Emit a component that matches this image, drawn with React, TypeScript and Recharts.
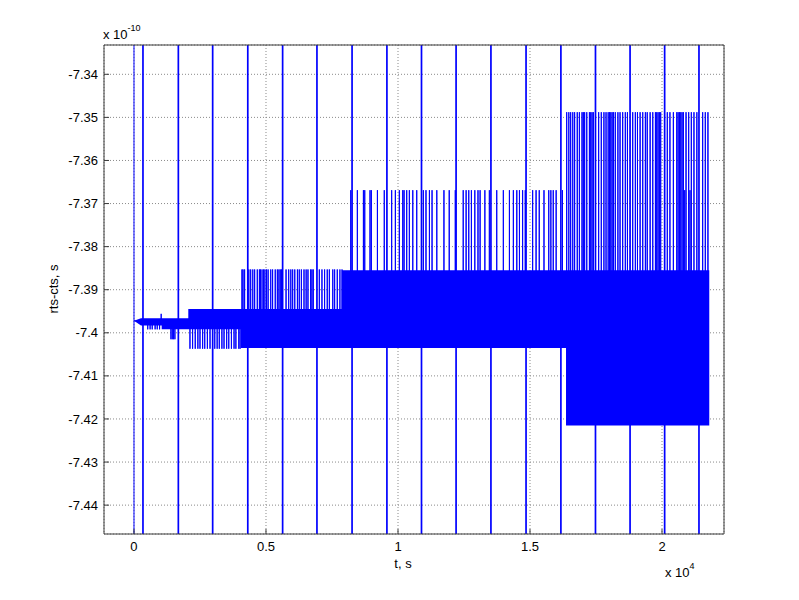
import React from "react";
import { ComposedChart, Line, Area, XAxis, YAxis, CartesianGrid } from "recharts";

// axes
const xTicks = [0, 5000, 10000, 15000, 20000];
const yTicks = [-7.34, -7.35, -7.36, -7.37, -7.38, -7.39, -7.4, -7.41, -7.42, -7.43, -7.44];
const xDomain = [-1136, 22348];
const yDomain = [-7.4467, -7.3332];

// solid band (time s, lower, upper) in units of 1e-10 s
const bandT = [0, 265, 1049, 1049, 2057, 2057, 4053, 4053, 7880, 7880, 16364, 16364, 21790];
const bandLow = [-7.3972, -7.3983, -7.3983, -7.3992, -7.3992, -7.3992, -7.3992, -7.4035, -7.4035, -7.4035, -7.4035, -7.4215, -7.4215];
const bandHigh = [-7.3972, -7.3966, -7.3966, -7.3966, -7.3966, -7.3945, -7.3945, -7.3945, -7.3945, -7.3855, -7.3855, -7.3855, -7.3855];

// spikes out of the band
const dipsA = [520, 610, 690, 800, 880, 970];
const upA = [1030];
const dipsB = [1400, 1450, 1500, 1550];
const dipsC = [2120, 2220, 2320, 2420, 2500, 2600, 2680, 2780, 2880, 3060, 3150, 3230, 3330, 3410, 3510, 3590, 3690, 3790, 3860, 3970, 4020];
const upC = [4090, 4130, 4190, 4350, 4420, 4500, 4570, 4670, 4750, 4790, 4850, 4910, 4960, 5020, 5080, 5180, 5250, 5350, 5430, 5490, 5540, 5590, 5760, 5860, 5940, 6010, 6090, 6190, 6260, 6340, 6440, 6520, 6590, 6690, 6740, 6790, 7020, 7120, 7220, 7320, 7400, 7530, 7600, 7700, 7800, 7880];
const upD = [8210, 8460, 8690, 8740, 8940, 8990, 9220, 9480, 9760, 9900, 10050, 10180, 10230, 10330, 10430, 10560, 10710, 10960, 11060, 11190, 11290, 11470, 11740, 11940, 12170, 12470, 12580, 12680, 12780, 12910, 13030, 13110, 13290, 13460, 13740, 13990, 14220, 14370, 14500, 14600, 14720, 14820, 15100, 15230, 15350, 15530, 15710, 15790, 15880, 15990, 16230];
const upE = [16390, 16470, 16540, 16620, 16690, 16790, 16870, 16970, 17020, 17070, 17150, 17250, 17300, 17350, 17400, 17600, 17700, 17800, 17880, 17960, 18010, 18060, 18110, 18160, 18230, 18330, 18410, 18510, 18610, 18690, 18890, 18990, 19070, 19170, 19270, 19370, 19440, 19550, 19650, 19750, 19800, 19850, 19900, 19950, 20200, 20300, 20430, 20560, 20610, 20660, 20710, 20760, 20810, 20910, 21010, 21110, 21210, 21320, 21540, 21640, 21740];
const midE = [20860, 21060];

// (base level, peak level) for each spike group
const spikeGroups: [number[], number, number][] = [
  [dipsA, -7.3975, -7.3992],
  [upA, -7.3975, -7.3956],
  [dipsB, -7.398, -7.4015],
  [dipsC, -7.397, -7.4037],
  [upC, -7.399, -7.3853],
  [upD, -7.395, -7.3669],
  [upE, -7.4, -7.3488],
  [midE, -7.4, -7.3669],
];

// full-height outliers (far outside the plotted range)
const startOutlier = [0];
const outlierT = [340, 1680, 2980, 4310, 5630, 6930, 8260, 9580, 10890, 12200, 13520, 14850, 16170, 17480, 18790, 20100, 21400];
const outHigh = -7.1;
const outLow = -7.7;

const bandData = bandT.map((t, i) => ({ t, range: [bandLow[i], bandHigh[i]] }));

const spikeList: { t: number; base: number; peak: number }[] = [];
spikeGroups.forEach(([times, base, peak]) => times.forEach((t) => spikeList.push({ t, base, peak })));
spikeList.sort((a, b) => a.t - b.t);

const lineData: { t: number; v: number }[] = [{ t: 0, v: -7.3972 }];
spikeList.forEach((s) => {
  lineData.push({ t: s.t, v: s.base });
  lineData.push({ t: s.t, v: s.peak });
  lineData.push({ t: s.t, v: s.base });
});

const startData: { t: number; v: number }[] = [];
startOutlier.forEach((t) => {
  startData.push({ t, v: outLow });
  startData.push({ t, v: outHigh });
});

const outlierData: { t: number; v: number }[] = [];
outlierT.forEach((t) => {
  outlierData.push({ t, v: outLow });
  outlierData.push({ t, v: outHigh });
  outlierData.push({ t, v: outLow });
});

const FONT = "'Liberation Sans', Arial, Helvetica, sans-serif";
const tickStyle = { fontFamily: FONT, fontSize: 13, fill: "#000" };
const BLUE = "#0000ff";
const AXIS = "#3a3a3a";

export default function App() {
  return (
    <div style={{ position: "relative", width: 791, height: 592, background: "#fff" }}>
      <ComposedChart width={791} height={592} margin={{ top: 27, right: 65, bottom: 36, left: 26 }}>
        <CartesianGrid stroke="#8a8a8a" strokeDasharray="1 2" strokeWidth={1} />
        <XAxis
          type="number"
          dataKey="t"
          domain={xDomain}
          ticks={xTicks}
          allowDataOverflow
          height={30}
          tickSize={-5}
          tickMargin={13}
          stroke={AXIS}
          tick={tickStyle}
          tickFormatter={(v: number) => String(v / 10000)}
        />
        <XAxis
          xAxisId="top"
          orientation="top"
          type="number"
          dataKey="t"
          domain={xDomain}
          ticks={xTicks}
          allowDataOverflow
          height={10}
          tickSize={-5}
          tick={false}
          stroke={AXIS}
        />
        <YAxis
          type="number"
          domain={yDomain}
          ticks={yTicks}
          allowDataOverflow
          width={70}
          tickSize={-5}
          tickMargin={11}
          stroke={AXIS}
          tick={tickStyle}
          tickFormatter={(v: number) => String(Number(v.toFixed(2)))}
        />
        <YAxis
          yAxisId="right"
          orientation="right"
          type="number"
          domain={yDomain}
          ticks={yTicks}
          allowDataOverflow
          width={10}
          tickSize={-5}
          tick={false}
          stroke={AXIS}
        />
        <Area
          data={bandData}
          dataKey="range"
          type="linear"
          stroke="none"
          fill={BLUE}
          fillOpacity={1}
          isAnimationActive={false}
          dot={false}
          activeDot={false}
        />
        <Line
          data={startData}
          dataKey="v"
          type="linear"
          stroke={BLUE}
          strokeWidth={1}
          dot={false}
          activeDot={false}
          isAnimationActive={false}
        />
        <Line
          data={lineData}
          dataKey="v"
          type="linear"
          stroke={BLUE}
          strokeWidth={1}
          dot={false}
          activeDot={false}
          isAnimationActive={false}
        />
        <Line
          data={outlierData}
          dataKey="v"
          type="linear"
          stroke={BLUE}
          strokeWidth={1.7}
          dot={false}
          activeDot={false}
          isAnimationActive={false}
        />
      </ComposedChart>
      <svg
        width={791}
        height={592}
        style={{ position: "absolute", left: 0, top: 0, pointerEvents: "none" }}
      >
        <text x={95} y={31} fontFamily={FONT} fontSize={13} fill="#000">
          x 10<tspan fontSize={9} dy={-8}>-10</tspan>
        </text>
        <text x={395} y={560} fontFamily={FONT} fontSize={13} fill="#000" textAnchor="middle">
          t, s
        </text>
        <text x={657} y={569} fontFamily={FONT} fontSize={13} fill="#000">
          x 10<tspan fontSize={9} dy={-8}>4</tspan>
        </text>
        <text
          x={50}
          y={281}
          fontFamily={FONT}
          fontSize={13}
          fill="#000"
          textAnchor="middle"
          transform="rotate(-90 50 281)"
        >
          rts-cts, s
        </text>
      </svg>
    </div>
  );
}
